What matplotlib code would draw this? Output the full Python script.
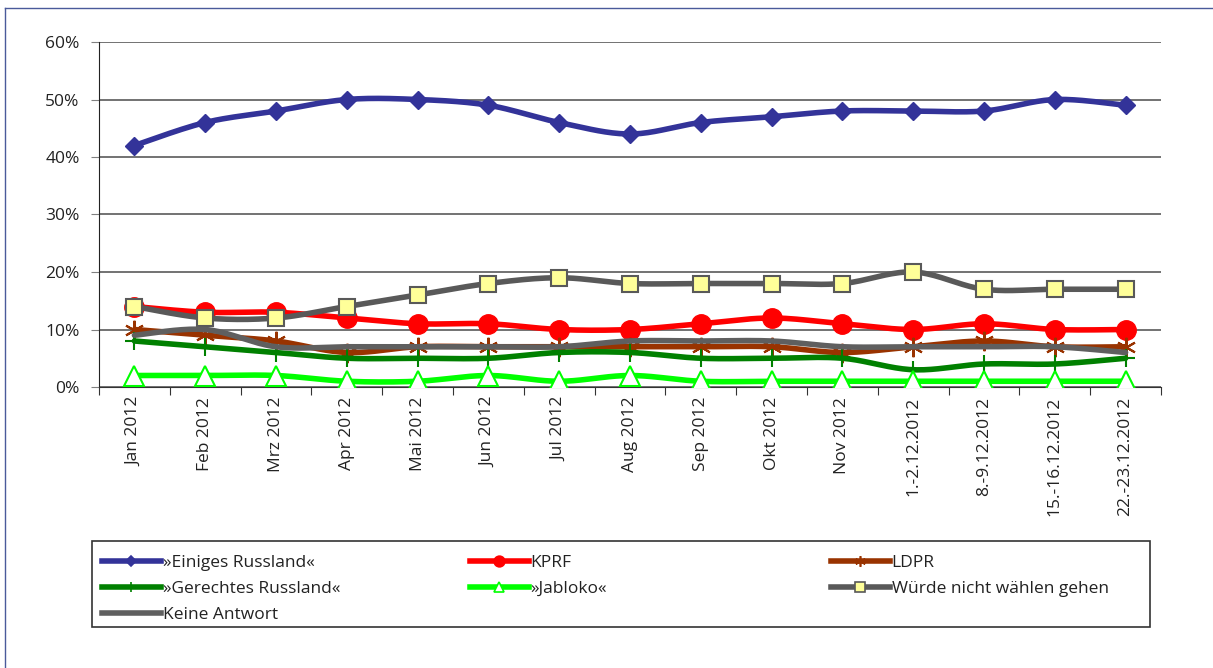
import matplotlib.pyplot as plt
import numpy as np
from matplotlib.lines import Line2D

plt.rcParams['font.family'] = ['Open Sans', 'DejaVu Sans']

# Categories and values (percent)
months = ['Jan 2012', 'Feb 2012', 'Mrz 2012', 'Apr 2012', 'Mai 2012', 'Jun 2012',
          'Jul 2012', 'Aug 2012', 'Sep 2012', 'Okt 2012', 'Nov 2012',
          '1.-2.12.2012', '8.-9.12.2012', '15.-16.12.2012', '22.-23.12.2012']

einiges = [42, 46, 48, 50, 50, 49, 46, 44, 46, 47, 48, 48, 48, 50, 49]
kprf = [14, 13, 13, 12, 11, 11, 10, 10, 11, 12, 11, 10, 11, 10, 10]
ldpr = [10, 9, 8, 6, 7, 7, 7, 7, 7, 7, 6, 7, 8, 7, 7]
gerechtes = [8, 7, 6, 5, 5, 5, 6, 6, 5, 5, 5, 3, 4, 4, 5]
jabloko = [2, 2, 2, 1, 1, 2, 1, 2, 1, 1, 1, 1, 1, 1, 1]
nicht_waehlen = [14, 12, 12, 14, 16, 18, 19, 18, 18, 18, 18, 20, 17, 17, 17]
keine_antwort = [9, 10, 7, 7, 7, 7, 7, 8, 8, 8, 7, 7, 7, 7, 6]

N_SEG = 20


def smooth(y):
    # Excel-style smoothed line: cubic Bezier through every point
    x = np.arange(len(y), dtype=float)
    y = np.asarray(y, dtype=float)
    pts = np.column_stack([x, y])
    ext = np.vstack([pts[0], pts, pts[-1]])
    t = np.linspace(0, 1, N_SEG, endpoint=False)[:, None]
    out = []
    for i in range(len(pts) - 1):
        p0, p1 = ext[i + 1], ext[i + 2]
        c1 = p0 + (ext[i + 2] - ext[i]) / 6
        c2 = p1 - (ext[i + 3] - ext[i + 1]) / 6
        seg = ((1 - t) ** 3) * p0 + 3 * ((1 - t) ** 2) * t * c1 + 3 * (1 - t) * t ** 2 * c2 + t ** 3 * p1
        out.append(seg)
    out.append(pts[-1][None, :])
    out = np.vstack(out)
    return out[:, 0], out[:, 1]


fig = plt.figure(figsize=(12.13, 6.68), dpi=100)
ax = fig.add_axes([99 / 1213, 1 - 387 / 668, (1161 - 99) / 1213, (387 - 42) / 668])

series = [
    ('»Einiges Russland«', einiges, dict(color='#333399', marker='D', markersize=9.5,
                                         markerfacecolor='#333399', markeredgecolor='#333399')),
    ('KPRF', kprf, dict(color='#FF0000', marker='o', markersize=14,
                        markerfacecolor='#FF0000', markeredgecolor='#FF0000')),
    ('LDPR', ldpr, dict(color='#993300', marker=(6, 2, 0), markersize=14,
                        markeredgecolor='#993300', markeredgewidth=1.5)),
    ('»Gerechtes Russland«', gerechtes, dict(color='#008000', marker='+', markersize=13,
                                             markeredgecolor='#008000', markeredgewidth=1.5)),
    ('»Jabloko«', jabloko, dict(color='#00FF00', marker='^', markersize=14,
                                markerfacecolor='white', markeredgecolor='#00FF00', markeredgewidth=1.5)),
    ('Würde nicht wählen gehen', nicht_waehlen, dict(color='#595959', marker='s', markersize=12,
                                                     markerfacecolor='#FFFF99', markeredgecolor='#595959',
                                                     markeredgewidth=1.5)),
    ('Keine Antwort', keine_antwort, dict(color='#5f5f5f')),
]

handles = []
for i, (label, vals, style) in enumerate(series):
    sx, sy = smooth([v / 100 for v in vals])
    line, = ax.plot(sx, sy, linewidth=4.0, markevery=N_SEG, zorder=3 + i,
                    solid_capstyle='round', label=label, **style)
    handles.append(line)

ax.set_xlim(-0.5, len(months) - 0.5)
ax.set_ylim(0, 0.6)
ax.set_yticks(np.arange(0, 0.61, 0.1))
ax.set_yticklabels(['0%', '10%', '20%', '30%', '40%', '50%', '60%'], fontsize=12.5, color='#222222')
ax.yaxis.grid(True, color='#5a5a5a', linewidth=1.2)
ax.set_axisbelow(True)

ax.set_xticks(np.arange(-0.5, len(months), 1.0))
ax.set_xticklabels([])
ax.set_xticks(np.arange(len(months)), minor=True)
ax.set_xticklabels(months, minor=True, rotation=90, fontsize=12.5, color='#222222')
ax.tick_params(axis='x', which='minor', length=0, pad=7)
ax.tick_params(axis='x', which='major', length=6, color='#333333')
ax.tick_params(axis='y', length=6, color='#808080', pad=8)

ax.spines['top'].set_visible(False)
ax.spines['right'].set_visible(False)
ax.spines['left'].set_color('#222222')
ax.spines['bottom'].set_color('#333333')

# legend box
fig.patches.append(plt.Rectangle((92 / 1213, 1 - 627 / 668), (1150 - 92) / 1213, (627 - 541) / 668,
                                 transform=fig.transFigure, fill=False, edgecolor='#333333',
                                 linewidth=1.2))
cols = [(97, [0, 3, 6]), (465, [1, 4]), (826, [2, 5])]
for xpx, idx in cols:
    hs = []
    for j in idx:
        h = handles[j]
        hs.append(Line2D([], [], color=h.get_color(), linewidth=4.0, marker=h.get_marker(),
                         markersize=h.get_markersize() * 0.55, markerfacecolor=h.get_markerfacecolor(),
                         markeredgecolor=h.get_markeredgecolor(), markeredgewidth=1.2))
    leg = fig.legend(hs, [handles[j].get_label() for j in idx], loc='upper left',
                     bbox_to_anchor=(xpx / 1213 - 0.006, 1 - 543 / 668), frameon=False,
                     fontsize=12.5, handlelength=3.4, handletextpad=0.1, labelspacing=0.55,
                     borderpad=0.2)
    for txt in leg.get_texts():
        txt.set_color('#222222')

# outer frame
fig.add_artist(Line2D([5 / 1213, 5 / 1213], [0, 1 - 8 / 668], transform=fig.transFigure,
                      color='#4a5a9a', linewidth=1))
fig.add_artist(Line2D([5 / 1213, 1], [1 - 8 / 668, 1 - 8 / 668], transform=fig.transFigure,
                      color='#4a5a9a', linewidth=1))

fig.savefig('out.png', dpi=100)
